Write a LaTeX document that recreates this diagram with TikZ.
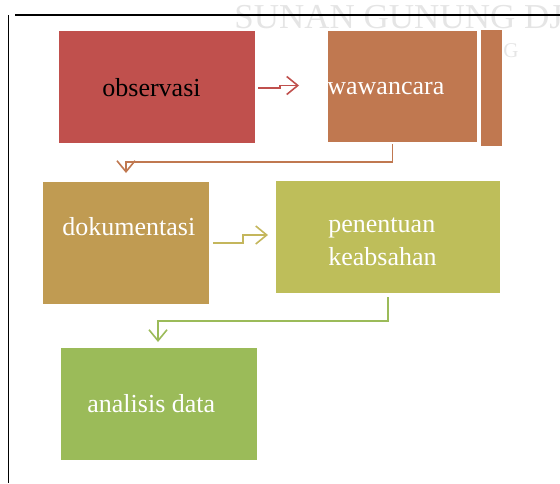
\documentclass[tikz,border=0pt]{standalone}
\usepackage{fontspec}
\setmainfont{Liberation Serif}
\usetikzlibrary{arrows.meta, positioning}

\definecolor{obsred}{RGB}{192,80,77}
\definecolor{wawbrown}{RGB}{192,120,80}
\definecolor{dokgold}{RGB}{192,155,82}
\definecolor{penolive}{RGB}{190,190,90}
\definecolor{anagreen}{RGB}{155,187,89}
\definecolor{linkolive}{RGB}{196,182,92}

\begin{document}
\begin{tikzpicture}[
        x=0.5pt, y=-0.5pt,
        >={Straight Barb[length=5.5pt, width=9pt]},
        box/.style={inner sep=0pt, outer sep=0pt},
        txt/.style={font=\fontsize{13}{16.5}\selectfont, inner sep=0pt, anchor=base west},
        arr/.style={->, line width=0.8pt},
        wmark/.style={text=black!10, inner sep=0pt, anchor=base west}
      ]
      \useasboundingbox (0,0) rectangle (560,483);
      \clip (0,0) rectangle (560,483);

      % Watermark
      \node[wmark, font=\fontsize{17.5}{20}\selectfont] (wm) at (234,28) {SUNAN GUNUNG DJ};
      \node[wmark, font=\fontsize{10.5}{12}\selectfont] (wmg) at (503,57) {G};

      % Page border
      \draw[line width=0.75pt] (15,15) -- (560,15);
      \draw[line width=0.75pt] (8.6,15) -- (8.6,483);

      % Boxes
      \node[box, fill=obsred, minimum width=98pt, minimum height=56pt] (obs) at (157,87) {};
      \node[box, fill=wawbrown, minimum width=74.5pt, minimum height=55.5pt] (waw) at (402.5,86.5) {};
      \node[box, fill=wawbrown, minimum width=10.5pt, minimum height=58pt] (wawb) at (491.5,88) {};
      \node[box, fill=dokgold, minimum width=83pt, minimum height=61pt] (dok) at (126,243) {};
      \node[box, fill=penolive, minimum width=112pt, minimum height=56pt] (pen) at (388,237) {};
      \node[box, fill=anagreen, minimum width=98pt, minimum height=56pt] (ana) at (159,404) {};

      % Texts
      \node[txt] (tobs) at (102,96) {observasi};
      \node[txt, text=white] (twaw) at (327,94) {wawancara};
      \node[txt, text=white] (tdok) at (62,235) {dokumentasi};
      \node[txt, text=white, align=left] (tpen) at (328,265) {penentuan\\keabsahan};
      \node[txt, text=white] (tana) at (87,412) {analisis data};

      % Connectors
      \draw[arr, obsred] ([shift={(3,1)}]obs.east) -- ++(22,0) |- ([shift={(-29,-1)}]waw.west);
      \draw[arr, wawbrown] ([shift={(-10,2)}]waw.south) -- ++(0,18) -| ([shift={(0,-9)}]dok.north);
      \draw[arr, linkolive] ([shift={(4,0)}]dok.east) -- ++(30,0) |- ([shift={(-8,-2)}]pen.west);
      \draw[arr, anagreen] ([shift={(0,4)}]pen.south) -- ++(0,24) -| ([shift={(-1,-6)}]ana.north);
    \end{tikzpicture}
\end{document}
